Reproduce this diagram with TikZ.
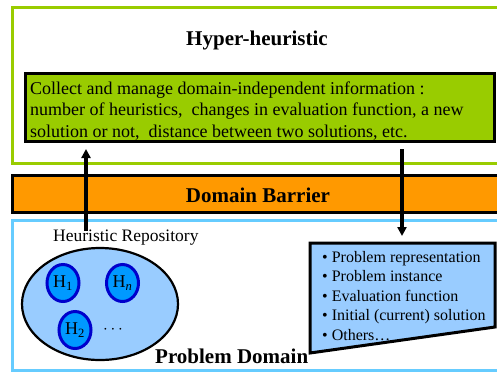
\documentclass[tikz,border=0pt]{standalone}
\usepackage{fontspec}
\setmainfont{Liberation Serif}
\usetikzlibrary{arrows.meta,shapes.geometric}
\definecolor{hgreen}{HTML}{99CC00}
\definecolor{horange}{HTML}{FF9900}
\definecolor{hframe}{HTML}{66CCFF}
\definecolor{lblue}{HTML}{99CCFF}
\definecolor{cfill}{HTML}{0099FF}
\definecolor{cborder}{HTML}{0000CC}
\begin{document}
\begin{tikzpicture}[x=1pt,y=-1pt,
  boldtitle/.style={font=\fontsize{21}{25}\selectfont\bfseries, inner sep=0pt},
  arr/.style={line width=3.2pt,-{Triangle[width=9pt,length=9pt]}},
  hcirc/.style={ellipse, draw=cborder, fill=cfill, line width=3pt, minimum width=32pt, minimum height=37pt, inner sep=0pt, font=\fontsize{18}{21}\selectfont}
]
\useasboundingbox (0,0) rectangle (497,373);
\begin{scope}
  \clip (0,0) rectangle (497,373);
  \draw[hgreen, line width=3pt] (12,7) rectangle (520,163);
  \draw[black, fill=horange, line width=3pt] (12,175) rectangle (520,212);
  \draw[hframe, line width=3pt] (12,220) rectangle (520,370);
\end{scope}
% titles
\node[boldtitle, anchor=base] (hh) at (257,45) {Hyper-heuristic};
\node[boldtitle, anchor=base] (db) at (258,202) {Domain Barrier};
\node[boldtitle, anchor=base west] (pd) at (155,363) {Problem Domain};
% green box
\node[draw, line width=3pt, fill=hgreen, minimum width=469pt, minimum height=68pt, anchor=north west, inner sep=0pt] (gbox) at (24,72) {};
\node[anchor=north west, inner sep=0pt, align=left, font=\fontsize{18}{21.5}\selectfont] (gtext) at (30,81.5)
  {Collect and manage domain-independent information :\\
   number of heuristics,\ \ changes in evaluation function, a new\\
   solution or not,\ \ distance between two solutions, etc.};
% repository
\node[anchor=base west, inner sep=0pt, font=\fontsize{17.5}{20}\selectfont] (hr) at (53,241) {Heuristic Repository};
\node[ellipse, draw, fill=lblue, line width=2.2pt, minimum width=156pt, minimum height=112pt] (repo) at (100,304) {};
\node[hcirc] (h1) at (63,283) {H\textsubscript{1}};
\node[hcirc] (hn) at (122.5,283) {H\textsubscript{\textit{n}}};
\node[hcirc] (h2) at (75,330) {H\textsubscript{2}};
\node[inner sep=0pt, scale=1.7] (dots) at (113,330) {$\cdots$};
% trapezoid
\coordinate (t1) at (310,243);
\coordinate (t2) at (495,243);
\coordinate (t3) at (495,327);
\coordinate (t4) at (310,353);
\draw[fill=lblue, line width=3pt, line join=miter] (t1) -- (t2) -- (t3) -- (t4) -- cycle;
\node[anchor=north west, inner sep=0pt, align=left, font=\fontsize{16}{19.5}\selectfont] (blist) at (322,251)
  {\textbullet\ Problem representation\\
   \textbullet\ Problem instance\\
   \textbullet\ Evaluation function\\
   \textbullet\ Initial (current) solution\\
   \textbullet\ Others…};
% arrows
\coordinate (a1s) at (86,231);
\coordinate (a1e) at (86,149);
\coordinate (a2s) at (402,149);
\coordinate (a2e) at (402,236);
\draw[arr] (a1s) -- (a1e);
\draw[arr] (a2s) -- (a2e);
\end{tikzpicture}
\end{document}
